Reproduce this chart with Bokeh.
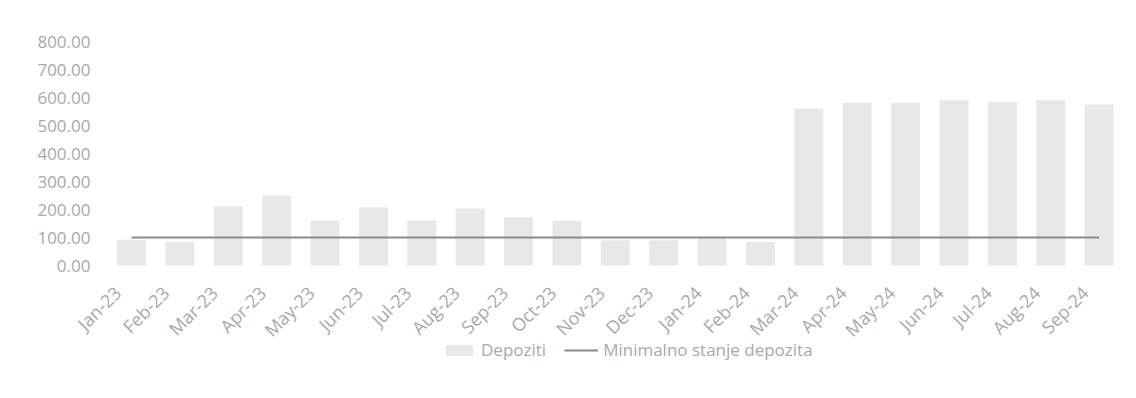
from bokeh.plotting import figure
from bokeh.models import ColumnDataSource, Range1d, Legend, LegendItem
from bokeh.core.properties import value
from bokeh.embed import file_html
from bokeh.resources import INLINE
import math

months = ["Jan-23", "Feb-23", "Mar-23", "Apr-23", "May-23", "Jun-23", "Jul-23",
          "Aug-23", "Sep-23", "Oct-23", "Nov-23", "Dec-23", "Jan-24", "Feb-24",
          "Mar-24", "Apr-24", "May-24", "Jun-24", "Jul-24", "Aug-24", "Sep-24"]
depoziti = [92, 84, 212, 250, 160, 207, 160, 204, 172, 160, 90, 90, 96, 84,
            560, 580, 580, 590, 585, 590, 575]
minimalno = [100] * len(months)
y_ticks = [0, 100, 200, 300, 400, 500, 600, 700, 800]
y_tick_labels = [f"{v:.2f}" for v in y_ticks]

FONT = "Open Sans"
TEXT = "#a9a9a9"

# page geometry in pixels: the whole canvas is the plotting frame so that
# month labels, value labels and the legend can sit around the bars
W, H = 1136, 398
FIRST_BAR_PX = 131      # centre of the first month
STEP_PX = 48.38         # distance between month centres
ZERO_PX = 265           # height of the zero line from the top
PX_PER_UNIT = 0.28      # 100 units = 28 px

x_start = -FIRST_BAR_PX / STEP_PX
x_end = x_start + W / STEP_PX
y_end = ZERO_PX / PX_PER_UNIT
y_start = y_end - H / PX_PER_UNIT

idx = list(range(len(months)))
month_label_y = -24 / PX_PER_UNIT
value_label_x = x_start + 90 / STEP_PX

src = ColumnDataSource(dict(x=idx, month=months, dep=depoziti, minimum=minimalno,
                            label_y=[month_label_y] * len(months)))
ysrc = ColumnDataSource(dict(x=[value_label_x] * len(y_ticks), y=y_ticks, text=y_tick_labels))

p = figure(frame_width=W, frame_height=H, min_border=0,
           x_range=Range1d(x_start, x_end), y_range=Range1d(y_start, y_end),
           output_backend="svg", toolbar_location=None)
p.outline_line_color = None
p.background_fill_color = "white"
p.border_fill_color = "white"
p.xaxis.visible = False
p.yaxis.visible = False
p.xgrid.grid_line_color = None
p.ygrid.grid_line_color = None

bars = p.vbar(x="x", top="dep", width=0.6, source=src,
              fill_color="#e8e8e8", line_color=None)
line = p.line(x="x", y="minimum", source=src, line_color="#8a8a8a", line_width=2)

# value labels on the left
p.text(x="x", y="y", text="text", source=ysrc, text_align="right", text_baseline="middle",
       text_font=value(FONT), text_font_size="17px", text_color=TEXT)

# rotated month labels under each bar
p.text(x="x", y="label_y", text="month", source=src, angle=math.pi / 4,
       x_offset=-14, text_align="right", text_baseline="middle",
       text_font=value(FONT), text_font_size="18px", text_color=TEXT)

legend = Legend(items=[LegendItem(label="Depoziti", renderers=[bars]),
                       LegendItem(label="Minimalno stanje depozita", renderers=[line])],
                orientation="horizontal", location=(442, 37),
                label_text_font=FONT, label_text_font_size="17px", label_text_color=TEXT,
                glyph_width=34, glyph_height=14, spacing=18,
                background_fill_alpha=0, border_line_color=None, margin=0, padding=4)
p.add_layout(legend)

open("out.html", "w").write(file_html(p, INLINE))
